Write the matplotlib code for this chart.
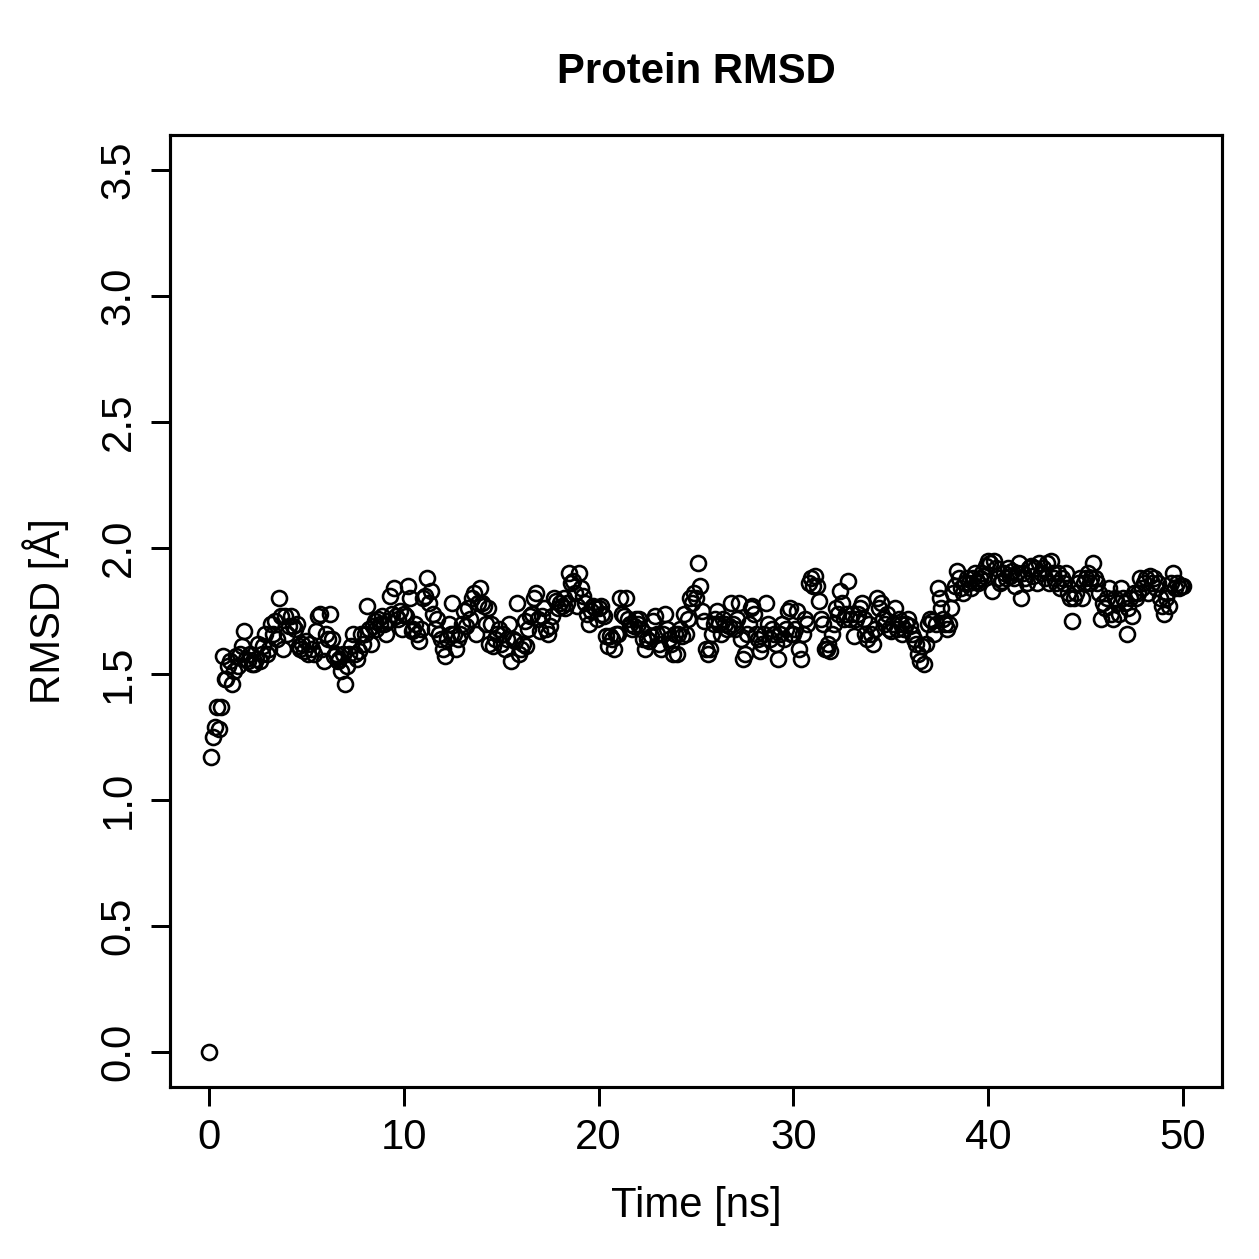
import numpy as np
import matplotlib
matplotlib.use("Agg")
import matplotlib.pyplot as plt

time_step = 0.1

rmsd_00_10 = [
    0.00, 1.17, 1.25, 1.29, 1.37, 1.28, 1.37, 1.57, 1.48, 1.48,
    1.53, 1.55, 1.46, 1.51, 1.57, 1.53, 1.58, 1.61, 1.67, 1.56,
    1.55, 1.58, 1.54, 1.54, 1.56, 1.62, 1.55, 1.58, 1.61, 1.66,
    1.58, 1.60, 1.70, 1.66, 1.71, 1.64, 1.80, 1.73, 1.60, 1.73,
    1.66, 1.69, 1.73, 1.69, 1.68, 1.70, 1.61, 1.60, 1.62, 1.59,
    1.63, 1.58, 1.62, 1.60, 1.58, 1.67, 1.73, 1.74, 1.60, 1.55,
    1.66, 1.64, 1.74, 1.64, 1.57, 1.58, 1.55, 1.56, 1.51, 1.58,
    1.46, 1.53, 1.58, 1.61, 1.66, 1.58, 1.56, 1.59, 1.66, 1.62,
    1.66, 1.77, 1.68, 1.62, 1.69, 1.71, 1.68, 1.72, 1.70, 1.73,
    1.70, 1.66, 1.71, 1.81, 1.74, 1.84, 1.73, 1.72, 1.75, 1.68,
]

rmsd_10_20 = [
    1.74, 1.73, 1.85, 1.80, 1.67, 1.68, 1.70, 1.66, 1.63, 1.68,
    1.80, 1.81, 1.88, 1.78, 1.83, 1.74, 1.68, 1.72, 1.66, 1.64,
    1.60, 1.57, 1.64, 1.70, 1.66, 1.78, 1.66, 1.60, 1.64, 1.66,
    1.70, 1.75, 1.69, 1.76, 1.72, 1.80, 1.82, 1.66, 1.78, 1.84,
    1.78, 1.77, 1.70, 1.76, 1.62, 1.70, 1.61, 1.64, 1.66, 1.68,
    1.62, 1.66, 1.60, 1.64, 1.70, 1.55, 1.64, 1.63, 1.78, 1.58,
    1.60, 1.62, 1.71, 1.61, 1.68, 1.73, 1.74, 1.80, 1.82, 1.72,
    1.67, 1.73, 1.76, 1.68, 1.66, 1.69, 1.73, 1.80, 1.79, 1.76,
    1.78, 1.77, 1.80, 1.76, 1.78, 1.90, 1.86, 1.87, 1.82, 1.77,
    1.90, 1.84, 1.81, 1.78, 1.74, 1.70, 1.75, 1.77, 1.76, 1.72,
]

rmsd_20_30 = [
    1.76, 1.77, 1.74, 1.73, 1.65, 1.61, 1.65, 1.64, 1.60, 1.66,
    1.66, 1.80, 1.74, 1.73, 1.80, 1.72, 1.70, 1.68, 1.69, 1.72,
    1.70, 1.72, 1.68, 1.64, 1.60, 1.64, 1.63, 1.65, 1.71, 1.73,
    1.66, 1.62, 1.60, 1.66, 1.74, 1.68, 1.64, 1.62, 1.58, 1.66,
    1.58, 1.66, 1.68, 1.65, 1.74, 1.66, 1.72, 1.80, 1.78, 1.82,
    1.80, 1.94, 1.85, 1.75, 1.71, 1.60, 1.58, 1.60, 1.66, 1.70,
    1.72, 1.75, 1.70, 1.66, 1.72, 1.70, 1.68, 1.69, 1.78, 1.70,
    1.68, 1.72, 1.78, 1.64, 1.56, 1.58, 1.66, 1.70, 1.76, 1.77,
    1.74, 1.66, 1.64, 1.59, 1.62, 1.66, 1.78, 1.70, 1.64, 1.68,
    1.66, 1.62, 1.56, 1.66, 1.70, 1.64, 1.68, 1.75, 1.76, 1.66,
]

rmsd_30_40 = [
    1.66, 1.68, 1.75, 1.60, 1.56, 1.66, 1.72, 1.70, 1.86, 1.88,
    1.85, 1.89, 1.85, 1.79, 1.72, 1.70, 1.60, 1.60, 1.62, 1.59,
    1.66, 1.70, 1.76, 1.74, 1.83, 1.78, 1.72, 1.74, 1.87, 1.72,
    1.74, 1.65, 1.72, 1.74, 1.76, 1.78, 1.72, 1.66, 1.64, 1.70,
    1.66, 1.62, 1.68, 1.80, 1.76, 1.78, 1.72, 1.70, 1.74, 1.68,
    1.67, 1.70, 1.76, 1.68, 1.72, 1.70, 1.66, 1.68, 1.70, 1.72,
    1.69, 1.66, 1.64, 1.62, 1.58, 1.55, 1.61, 1.54, 1.62, 1.70,
    1.72, 1.71, 1.66, 1.70, 1.84, 1.80, 1.76, 1.72, 1.70, 1.68,
    1.70, 1.76, 1.82, 1.85, 1.91, 1.88, 1.84, 1.82, 1.86, 1.88,
    1.86, 1.84, 1.88, 1.90, 1.87, 1.86, 1.88, 1.90, 1.89, 1.93,
]

rmsd_40_50 = [
    1.95, 1.94, 1.83, 1.95, 1.92, 1.88, 1.86, 1.87, 1.90, 1.88,
    1.92, 1.89, 1.91, 1.88, 1.85, 1.90, 1.94, 1.80, 1.90, 1.88,
    1.86, 1.92, 1.93, 1.89, 1.92, 1.86, 1.94, 1.90, 1.92, 1.88,
    1.94, 1.86, 1.95, 1.90, 1.88, 1.86, 1.90, 1.84, 1.88, 1.86,
    1.90, 1.82, 1.80, 1.71, 1.80, 1.82, 1.86, 1.88, 1.80, 1.86,
    1.88, 1.90, 1.86, 1.88, 1.94, 1.88, 1.86, 1.82, 1.72, 1.78,
    1.76, 1.80, 1.84, 1.74, 1.72, 1.80, 1.78, 1.74, 1.84, 1.80,
    1.78, 1.66, 1.76, 1.80, 1.73, 1.82, 1.80, 1.82, 1.88, 1.84,
    1.86, 1.88, 1.82, 1.89, 1.86, 1.88, 1.84, 1.86, 1.80, 1.77,
    1.74, 1.80, 1.82, 1.77, 1.86, 1.90, 1.84, 1.86, 1.84, 1.85,
    1.85,
]

x_ticks = [0, 10, 20, 30, 40, 50]
y_ticks = [0.0, 0.5, 1.0, 1.5, 2.0, 2.5, 3.0, 3.5]

rmsd = np.array(rmsd_00_10 + rmsd_10_20 + rmsd_20_30 + rmsd_30_40 + rmsd_40_50)
time = np.arange(len(rmsd)) * time_step

plt.rcParams['font.family'] = ['Liberation Sans', 'DejaVu Sans']
plt.rcParams['font.size'] = 16.8

fig = plt.figure(figsize=(7, 7), dpi=179.86)
ax = fig.add_axes([0.135, 0.1366, 0.8356, 0.7562])

ax.plot(time, rmsd, linestyle='none', marker='o', markersize=6.0,
        markerfacecolor='none', markeredgecolor='black', markeredgewidth=1.05)

ax.set_xlim(-2, 52)
ax.set_ylim(-0.14, 3.64)
ax.set_xticks(x_ticks)
ax.set_xticklabels([str(t) for t in x_ticks])
ax.set_yticks(y_ticks)
ax.set_yticklabels([f"{t:.1f}" for t in y_ticks])

ax.tick_params(axis='both', direction='out', length=7.5, width=1.2,
               labelsize=16.8, pad=5)
ax.tick_params(axis='y', labelrotation=90)
for lab in ax.get_yticklabels():
    lab.set_verticalalignment('center')

for sp in ax.spines.values():
    sp.set_linewidth(1.25)

ax.set_title('Protein RMSD', fontsize=16.8, fontweight='bold', pad=21)
ax.set_xlabel('Time [ns]', fontsize=16.8, labelpad=11)
ax.set_ylabel('RMSD [Å]', fontsize=16.8, labelpad=12)

fig.savefig('out.png', dpi=179.86)
